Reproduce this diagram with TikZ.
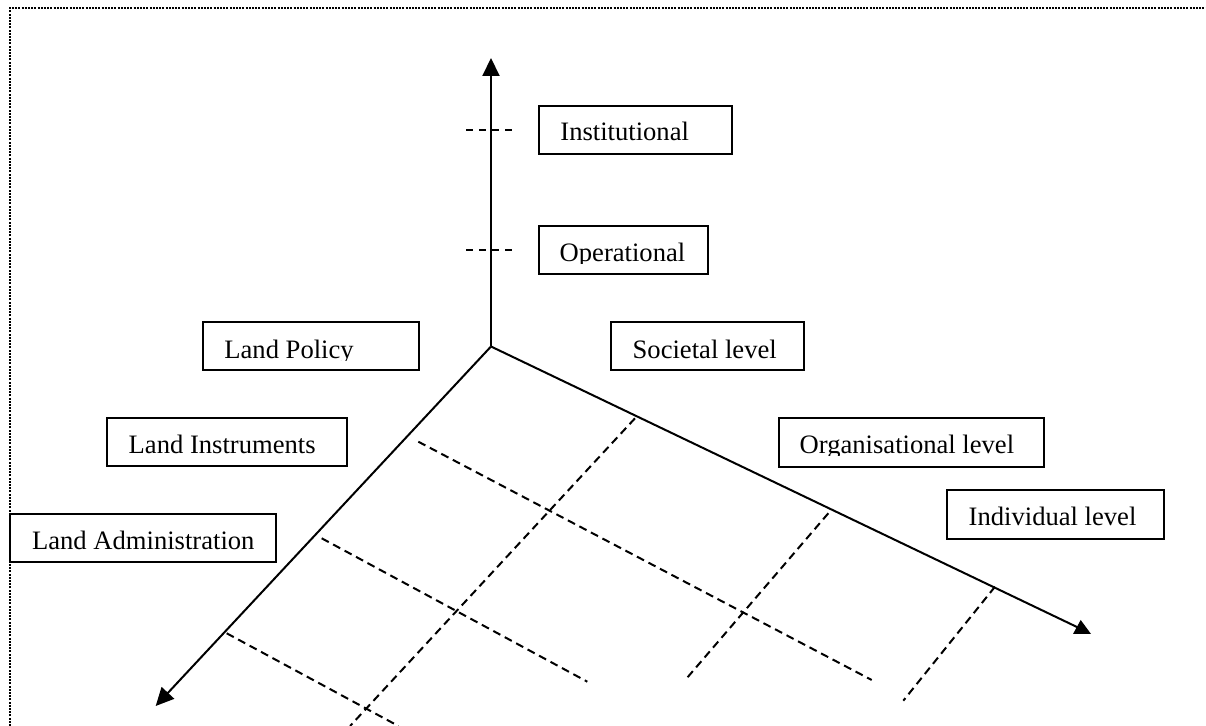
\documentclass[tikz,border=0pt]{standalone}
\usepackage{fontspec}
\setmainfont{Liberation Serif}
\usetikzlibrary{arrows.meta,fit}
\newcommand\labelbox[8]{%
  \node[box, fit={(#2,#3) (#4,#5)}] (#1) {};
  \begin{scope}
    \clip (#2,#3) rectangle (#4,{#7+1.8});
    \node[lbl] (#1-t) at (#6,#7) {#8};
  \end{scope}}
\begin{document}
\begin{tikzpicture}[x=0.5pt,y=-0.5pt,
  axis/.style={line width=1pt,-{Triangle[length=9pt,width=8.5pt]}},
  axisline/.style={line width=1pt},
  gridline/.style={line width=1pt,dash pattern=on 4pt off 2.5pt},
  tick/.style={line width=1pt,dash pattern=on 3.5pt off 3pt},
  box/.style={draw,line width=1pt,inner sep=0pt},
  lbl/.style={anchor=base west,inner sep=0pt,font=\fontsize{13.3}{16}\selectfont},
  frame/.style={line width=1pt,dash pattern=on 1pt off 0.6pt}]
\useasboundingbox (0,0) rectangle (1206,726);
\draw[frame] (9.5,726) -- (9.5,8.5) -- (1206,8.5);

% axes
\coordinate (O) at (491,346.5);
\coordinate (up) at (491,58);
\coordinate (right) at (1078,627.5);
\coordinate (left) at (155.7,706);
\draw[axis] (O) -- (up);
\draw[axisline] (O) -- (right);
\fill (1073,634) -- (1091,634) -- (1080.7,620) -- cycle;
\draw[axis] (O) -- (left);

% ticks on vertical axis
\coordinate (t1a) at (466,130); \coordinate (t1b) at (516,130);
\coordinate (t2a) at (466,250); \coordinate (t2b) at (516,250);
\draw[tick] (t1a) -- (t1b);
\draw[tick] (t2a) -- (t2b);

% grid lines
\coordinate (a1) at (418.3,441.7); \coordinate (a2) at (871.7,680);
\coordinate (b1) at (321.7,538.3); \coordinate (b2) at (587.3,681.7);
\coordinate (c1) at (226.7,633.3); \coordinate (c2) at (398.4,726);
\coordinate (d1) at (635,418.3);   \coordinate (d2) at (350.1,726);
\coordinate (e1) at (828.3,513.3); \coordinate (e2) at (686.7,678.3);
\coordinate (f1) at (995,586.7);   \coordinate (f2) at (903.3,700.7);
\draw[gridline] (a1) -- (a2);
\draw[gridline] (b1) -- (b2);
\draw[gridline] (c1) -- (c2);
\draw[gridline] (d1) -- (d2);
\draw[gridline] (e1) -- (e2);
\draw[gridline] (f1) -- (f2);

% boxes
\labelbox{inst}{538.7}{106}{731.7}{154.3}{560}{141}{Institutional}
\labelbox{oper}{538.7}{226}{707.7}{274}{559.3}{261.7}{Operational}
\labelbox{policy}{202.7}{322}{419.3}{370.3}{224}{358.3}{Land Policy}
\labelbox{instr}{106.7}{417.7}{347.3}{466.3}{128.3}{454}{Land Instruments}
\labelbox{admin}{10.3}{514}{275.7}{562.3}{31.7}{550}{Land Administration}
\labelbox{soc}{611}{322.3}{804}{370.3}{632.3}{358.3}{Societal level}
\labelbox{org}{778.7}{418.3}{1043.7}{466.7}{799.3}{453.3}{Organisational level}
\labelbox{indiv}{946.7}{490}{1163.7}{538.7}{968.3}{525.7}{Individual level}
\end{tikzpicture}
\end{document}
